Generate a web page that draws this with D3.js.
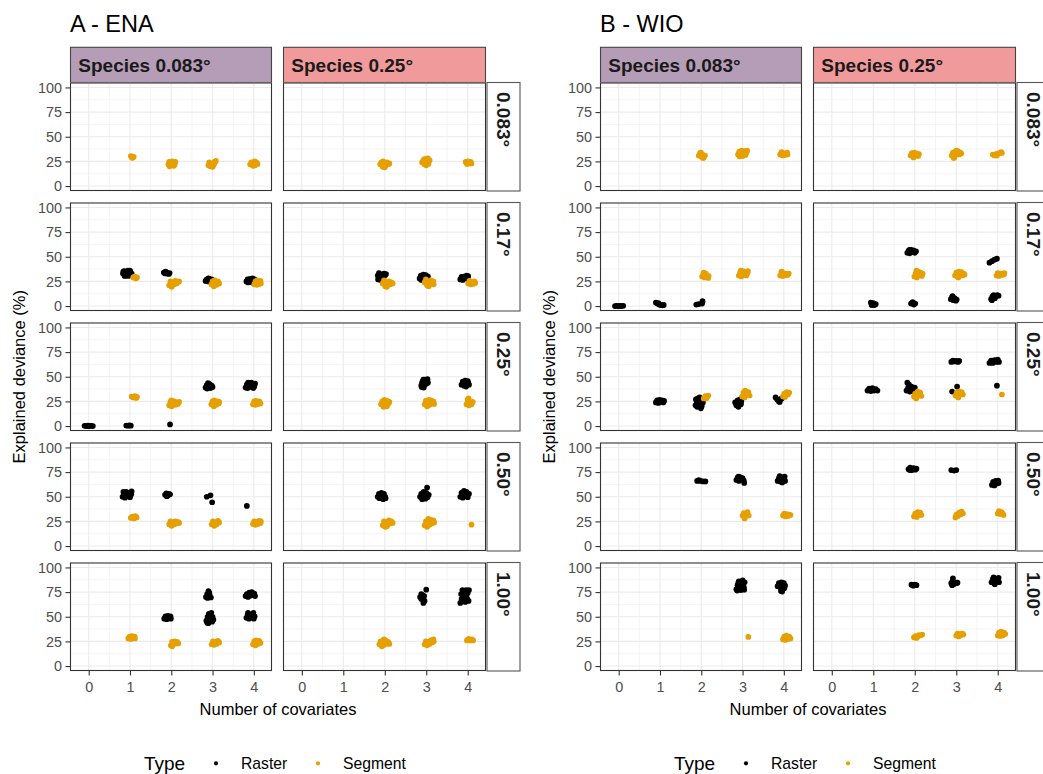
<!DOCTYPE html>
<html><head><meta charset="utf-8">
<script src="https://cdn.jsdelivr.net/npm/d3@7"></script>
<style>body{margin:0;background:#fff}svg{display:block}text{font-family:"Liberation Sans",Arial,Helvetica,sans-serif}</style>
</head><body><svg id="c" width="1043" height="774"></svg>
<script>
// ---------- data ----------
const panelTitles = ["A - ENA", "B - WIO"];
const speciesLabels = ["Species 0.083°", "Species 0.25°"];
const resolutionLabels = ["0.083°", "0.17°", "0.25°", "0.50°", "1.00°"];
const xTicks = [0, 1, 2, 3, 4];
const yTicks = [0, 25, 50, 75, 100];
const typeLabels = ["Raster", "Segment"];
const typeCodes = ["R", "S"];
const xTitle = "Number of covariates";
const yTitle = "Explained deviance (%)";
const legendTitle = "Type";

// clusters: [species index, resolution index, type, [[covariates (jittered), deviance], ...]]
const enaClusters = [
  [0,0,"S",[[1.04,30],[1.07,29],[1.09,29.6],[1.05,28.6],[1.02,30.4]]],
  [0,0,"S",[[1.93,22],[1.96,20],[1.98,24],[2.02,25],[2.05,23],[2.08,21.5],[2.1,24.5],[2.0,22],[1.95,24.5],[2.06,20.5]]],
  [0,0,"S",[[2.9,21],[2.92,24],[2.95,20],[2.98,22.5],[3.02,21],[3.05,24.5],[3.08,25.5],[3.0,19.5],[3.04,23]]],
  [0,0,"S",[[3.91,22],[3.94,24],[3.97,21],[4.0,23.5],[4.03,21],[4.06,24],[4.09,22.5],[3.99,20.5],[4.02,25]]],
  [1,0,"S",[[1.89,22],[1.92,24],[1.95,19.5],[1.98,23],[2.02,21],[2.05,24],[2.08,22],[2.11,23],[2.0,19],[1.96,25]]],
  [1,0,"S",[[2.9,24],[2.93,26],[2.96,22],[2.99,27.5],[3.02,25],[3.05,22.5],[3.08,26],[3.0,21],[2.95,27],[3.04,28]]],
  [1,0,"S",[[3.95,24.5],[3.98,22.5],[4.01,25],[4.04,23],[4.07,24.5],[4.09,23]]],

  [0,1,"R",[[0.83,33],[0.86,35.5],[0.89,31],[0.92,34],[0.95,36],[0.98,32],[1.01,34.5],[1.04,33],[0.87,30.5],[0.96,30.5],[1.0,36],[0.84,35]]],
  [0,1,"S",[[1.08,29],[1.11,30],[1.14,28],[1.17,29]]],
  [0,1,"R",[[1.82,34],[1.85,33],[1.88,34.5],[1.91,33],[1.94,32.5],[1.96,33.5],[1.86,35]]],
  [0,1,"S",[[1.95,21],[1.98,25],[2.01,19.5],[2.04,24],[2.07,22],[2.1,25.5],[2.13,23],[2.16,24.5],[2.19,25],[2.03,21.5]]],
  [0,1,"R",[[2.83,25.5],[2.86,27],[2.89,25],[2.92,27.5],[2.95,26],[2.98,27],[3.01,25.5],[2.9,28]]],
  [0,1,"S",[[2.97,22],[3.0,25],[3.03,20],[3.06,23.5],[3.1,21.5],[3.13,25],[3.16,23],[3.05,26]]],
  [0,1,"R",[[3.82,25],[3.85,27],[3.88,24.5],[3.91,27.5],[3.94,25.5],[3.97,28],[4.0,26],[4.02,27],[3.86,24],[3.96,24]]],
  [0,1,"S",[[4.01,22],[4.04,25],[4.07,21.5],[4.1,24],[4.13,22.5],[4.16,25.5],[4.17,23],[4.08,26]]],
  [1,1,"R",[[1.83,31],[1.86,33.5],[1.89,28],[1.92,32],[1.95,30],[1.98,33],[2.01,31.5],[2.03,32.5],[1.84,27],[1.9,26.5],[1.97,29]]],
  [1,1,"S",[[1.95,23],[1.98,26],[2.01,20],[2.04,24],[2.07,21.5],[2.1,25],[2.13,22],[2.16,24],[2.19,23],[2.05,19.5]]],
  [1,1,"R",[[2.84,28],[2.87,31],[2.9,27],[2.93,32],[2.96,29],[2.99,31.5],[3.02,28.5],[3.04,30],[2.88,26.5],[2.95,26.5],[2.92,29.5]]],
  [1,1,"S",[[2.96,24],[2.99,27],[3.02,21],[3.05,25],[3.08,22],[3.11,26],[3.14,23],[3.17,25],[3.18,22],[3.06,20]]],
  [1,1,"R",[[3.82,27],[3.85,29.5],[3.88,26.5],[3.91,30],[3.94,28],[3.97,31],[4.0,29],[4.01,30.5],[3.86,28]]],
  [1,1,"S",[[4.01,23],[4.04,25.5],[4.07,22],[4.1,24.5],[4.13,22.5],[4.16,25],[4.18,23.5]]],

  [0,2,"R",[[-0.1,0.3],[-0.06,0],[-0.02,0.4],[0.02,0],[0.06,0.3],[0.1,0],[0.0,0.2]]],
  [0,2,"R",[[0.91,0.6],[0.95,0.3],[0.98,0.8],[1.02,0.4]]],
  [0,2,"S",[[1.04,30],[1.08,29],[1.12,30.5],[1.15,28.5],[1.17,29.5]]],
  [0,2,"R",[[1.97,1.7]]],
  [0,2,"S",[[1.95,21],[1.98,24.5],[2.01,20],[2.04,23],[2.07,25],[2.1,21.5],[2.13,24],[2.16,22.5],[2.19,24.5],[2.0,26]]],
  [0,2,"R",[[2.83,39],[2.86,41.5],[2.89,43.5],[2.92,40],[2.95,38.5],[2.98,41],[3.0,39.5],[2.87,38],[2.93,42.5]]],
  [0,2,"S",[[2.97,22],[3.0,25],[3.03,20],[3.06,24],[3.09,21.5],[3.12,25],[3.15,23],[3.16,24.5],[3.04,26]]],
  [0,2,"R",[[3.8,39],[3.83,42],[3.86,44],[3.89,40],[3.92,43],[3.95,39.5],[3.98,42.5],[4.01,40],[4.03,43],[3.85,38.5],[3.94,44],[3.99,38.5]]],
  [0,2,"S",[[3.98,22],[4.01,25],[4.04,21.5],[4.07,24],[4.1,22.5],[4.13,25],[4.16,23],[4.05,25.5]]],
  [1,2,"S",[[1.91,22],[1.94,25],[1.97,19.5],[2.0,24],[2.03,21.5],[2.06,25.5],[2.09,23],[2.11,24.5],[1.99,26.5],[2.05,20]]],
  [1,2,"R",[[2.88,41],[2.91,45],[2.94,39],[2.97,47],[3.0,43],[3.02,46.5],[3.04,44],[2.9,43.5],[2.96,42],[3.03,47.5],[2.93,47],[2.89,39.5]]],
  [1,2,"S",[[2.96,22],[2.99,25.5],[3.02,20],[3.05,24],[3.08,21.5],[3.11,26],[3.14,23],[3.17,25],[3.19,22.5],[3.06,26.5]]],
  [1,2,"R",[[3.85,42],[3.88,45],[3.91,41],[3.94,46],[3.97,43],[4.0,45.5],[4.03,42],[3.9,43.5],[3.96,40],[4.01,44]]],
  [1,2,"S",[[3.97,22],[4.0,25],[4.03,21],[4.06,24],[4.09,22],[4.12,24.5],[4.02,28],[4.0,27]]],

  [0,3,"R",[[0.82,50],[0.85,53],[0.88,49],[0.91,55],[0.94,51],[0.97,54],[1.0,49.5],[1.03,52.5],[1.04,55.5],[0.84,55],[0.9,52],[0.98,51]]],
  [0,3,"S",[[1.02,28.5],[1.06,30],[1.1,28],[1.13,30.5],[1.16,29]]],
  [0,3,"R",[[1.85,52],[1.88,53.5],[1.91,51],[1.94,53],[1.97,52.5],[1.89,50.5]]],
  [0,3,"S",[[1.95,22],[1.98,25],[2.01,20.5],[2.04,24],[2.07,22],[2.1,25],[2.13,23],[2.16,24.5],[2.19,23.5]]],
  [0,3,"R",[[2.86,50],[2.95,51.4],[2.99,44.4]]],
  [0,3,"S",[[2.98,22],[3.01,25],[3.04,20.5],[3.07,24],[3.1,22],[3.13,25.5],[3.16,24]]],
  [0,3,"R",[[3.83,40.7]]],
  [0,3,"S",[[3.98,22.5],[4.01,25],[4.04,21.5],[4.07,24.5],[4.1,22.5],[4.13,25.5],[4.16,23.5],[4.17,25]]],
  [1,3,"R",[[1.83,50],[1.86,53],[1.89,49],[1.92,54],[1.95,51],[1.98,53],[2.01,50],[2.02,48.5],[1.87,48.5],[1.96,47.5]]],
  [1,3,"S",[[1.95,21],[1.98,25],[2.01,19.5],[2.04,24],[2.07,21.5],[2.1,26],[2.13,23],[2.16,25],[2.19,23.5],[2.05,20]]],
  [1,3,"R",[[2.85,50],[2.88,53],[2.91,49],[2.94,55],[2.97,51],[3.0,54],[3.03,49.5],[3.06,52],[2.9,47.5],[2.98,48],[3.02,59.4]]],
  [1,3,"S",[[2.96,21],[2.99,25],[3.02,19.5],[3.05,24],[3.08,21.5],[3.11,26.5],[3.14,23],[3.17,26],[3.19,24],[3.05,27.5]]],
  [1,3,"R",[[3.82,50],[3.85,54],[3.88,49],[3.91,56],[3.94,51],[3.97,55],[4.0,49.5],[4.03,53],[3.86,52],[3.99,52]]],
  [1,3,"S",[[4.09,21.7]]],

  [0,4,"S",[[0.96,28],[0.99,30],[1.02,27.5],[1.05,30.5],[1.08,28.5],[1.11,30],[1.12,28]]],
  [0,4,"R",[[1.83,48],[1.86,50.5],[1.89,47.5],[1.92,51],[1.95,49],[1.98,50.5],[1.99,48]]],
  [0,4,"S",[[1.99,21],[2.02,24.5],[2.05,22],[2.08,25],[2.11,23],[2.14,24.5],[2.17,23],[2.02,20]]],
  [0,4,"R",[[2.84,70],[2.87,73],[2.9,76],[2.93,72],[2.96,69.5],[2.88,69],[2.92,74.5]]],
  [0,4,"R",[[2.85,46],[2.88,50],[2.91,53],[2.94,48],[2.97,54],[3.0,50],[3.02,47],[2.87,44],[2.9,43.5],[2.95,51.5],[2.99,45]]],
  [0,4,"S",[[2.98,22],[3.01,25],[3.04,21.5],[3.07,24.5],[3.1,22.5],[3.13,25.5],[3.16,24]]],
  [0,4,"R",[[3.8,71],[3.83,73],[3.86,70],[3.89,74.5],[3.92,71.5],[3.95,75],[3.98,72],[4.01,73.5],[4.03,71]]],
  [0,4,"R",[[3.82,49],[3.85,52],[3.88,48],[3.91,51],[3.94,49],[3.97,53],[4.0,48],[4.02,50.5],[3.86,54],[3.99,54]]],
  [0,4,"S",[[3.98,22],[4.01,25],[4.04,21],[4.07,24],[4.1,22.5],[4.13,25.5],[4.16,23.5],[4.05,26]]],
  [1,4,"S",[[1.87,22],[1.9,25],[1.93,20],[1.96,24],[1.99,21.5],[2.02,26],[2.05,23],[2.08,24.5],[2.11,22.5],[1.98,27]]],
  [1,4,"R",[[2.85,70],[2.88,68],[2.91,72],[2.95,71],[3.0,77.5],[2.93,64],[2.96,66],[2.88,73]]],
  [1,4,"S",[[2.96,22],[2.99,25],[3.02,21],[3.05,24.5],[3.08,22.5],[3.11,26],[3.14,24],[3.17,27],[3.18,25]]],
  [1,4,"R",[[3.82,64],[3.85,68],[3.88,72],[3.91,76],[3.94,65],[3.97,70],[4.0,74],[4.03,77],[3.84,73],[3.9,66.5],[3.96,77],[4.02,66],[3.87,77],[3.99,68]]],
  [1,4,"S",[[3.98,26],[4.02,27.5],[4.06,26],[4.1,27],[4.13,26]]]
];

const wioClusters = [
  [0,0,"S",[[1.94,31],[1.97,33.5],[2.0,30],[2.03,32],[2.06,29],[2.09,31],[1.99,34],[2.04,28.5]]],
  [0,0,"S",[[2.89,32],[2.92,35],[2.95,31],[2.98,36],[3.01,33],[3.04,35.5],[3.07,31.5],[3.1,34],[3.11,36],[2.93,30],[3.0,30.5]]],
  [0,0,"S",[[3.91,32],[3.94,34],[3.97,31],[4.0,33],[4.03,31.5],[4.06,33.5],[4.09,32],[3.95,34.5],[4.08,34]]],
  [1,0,"S",[[1.9,31],[1.93,33.5],[1.96,30],[1.99,34],[2.02,31.5],[2.05,33],[2.08,30.5],[2.1,32.5],[1.97,29]]],
  [1,0,"S",[[2.89,31],[2.92,34],[2.95,29],[2.98,35],[3.01,32],[3.04,35.5],[3.07,32],[3.1,34],[3.12,33],[2.94,28.5],[3.0,36]]],
  [1,0,"S",[[3.88,32],[3.92,31],[3.96,32.5],[4.0,33],[4.04,33.5],[4.08,34.5],[4.1,33.5],[3.98,31]]],

  [0,1,"R",[[-0.09,0],[-0.05,0.3],[-0.01,0],[0.03,0.2],[0.07,0],[0.11,0.3]]],
  [0,1,"R",[[0.9,3.5],[0.94,2.5],[0.98,1.5],[1.02,1],[1.06,0.8],[1.09,1.2],[0.96,3]]],
  [0,1,"R",[[1.88,1.5],[1.94,2],[2.02,2.5],[2.03,5]]],
  [0,1,"S",[[2.02,30],[2.05,32.5],[2.08,29],[2.11,33],[2.14,31],[2.17,28.5],[2.18,30.5],[2.06,34]]],
  [0,1,"S",[[2.91,31],[2.94,34],[2.97,30],[3.0,35.5],[3.03,32],[3.06,35],[3.09,31],[3.12,33.5],[3.13,35.5],[2.96,36]]],
  [0,1,"S",[[3.91,31],[3.94,34.5],[3.97,30.5],[4.0,33],[4.03,31],[4.06,33],[4.09,31.5],[4.12,33],[3.95,35]]],
  [1,1,"R",[[0.94,3.5],[0.97,1.5],[1.0,3],[1.03,1],[1.06,2],[0.96,1]]],
  [1,1,"R",[[1.82,54],[1.85,56],[1.88,53.5],[1.91,57],[1.94,55],[1.97,56.5],[2.0,54],[2.03,55.5],[1.87,57]]],
  [1,1,"R",[[1.91,2.5],[1.95,4],[1.98,1.5],[2.01,2.5]]],
  [1,1,"S",[[1.99,30],[2.02,33],[2.05,29],[2.08,35],[2.11,31.5],[2.14,34],[2.17,30.5],[2.19,33],[2.04,36]]],
  [1,1,"R",[[2.87,7],[2.9,9],[2.93,6],[2.96,8],[2.99,5.5],[3.01,6.5],[2.91,10]]],
  [1,1,"S",[[2.97,31],[3.0,34],[3.03,30],[3.06,35],[3.09,32],[3.12,34.5],[3.15,31],[3.18,33],[3.2,32],[3.05,29]]],
  [1,1,"R",[[3.8,44],[3.86,45.5],[3.92,47],[3.98,48]]],
  [1,1,"R",[[3.84,7],[3.87,9.5],[3.9,11],[3.93,8],[3.96,10],[3.99,11],[4.02,10.5],[3.86,6]]],
  [1,1,"S",[[3.97,31],[4.0,33.5],[4.03,30.5],[4.06,33],[4.09,31.5],[4.12,33],[4.15,32],[4.16,33.5]]],

  [0,2,"R",[[0.9,24],[0.93,26],[0.96,23.5],[0.99,26.5],[1.02,24.5],[1.05,26],[1.08,24],[1.1,25.5]]],
  [0,2,"R",[[1.86,21],[1.89,25],[1.92,28],[1.95,22],[1.98,26],[2.01,20],[2.04,24],[1.9,19.5],[1.96,29],[2.02,27],[1.93,23.5],[1.99,18],[1.87,27]]],
  [0,2,"S",[[2.06,28],[2.1,30.5],[2.14,29.5],[2.17,31],[2.12,28]]],
  [0,2,"R",[[2.82,24],[2.85,21],[2.88,26],[2.91,22],[2.94,27],[2.97,25],[3.0,29],[2.9,19.5],[2.96,22],[3.02,30]]],
  [0,2,"S",[[2.99,30],[3.02,34],[3.05,29],[3.08,35],[3.11,32],[3.14,34.5],[3.17,31],[3.06,36]]],
  [0,2,"R",[[3.8,29],[3.84,27],[3.88,25],[3.92,27],[3.95,28],[3.9,24.5]]],
  [0,2,"S",[[3.98,30],[4.01,33],[4.04,31],[4.07,34.5],[4.1,32],[4.13,34],[4.03,29.5]]],
  [1,2,"R",[[0.86,36],[0.9,38],[0.94,35.5],[0.98,38.5],[1.02,36],[1.06,37.5],[1.1,36]]],
  [1,2,"R",[[1.8,36],[1.84,39],[1.88,35],[1.92,40],[1.96,37],[2.0,39],[1.86,42],[1.82,44],[1.9,37.5],[1.97,35]]],
  [1,2,"S",[[1.98,30],[2.01,33],[2.04,29],[2.07,35],[2.1,31],[2.13,34],[2.16,30.5],[2.03,28]]],
  [1,2,"R",[[2.88,65],[2.92,66.5],[2.96,65.5],[3.0,66],[3.04,65],[3.07,66]]],
  [1,2,"R",[[2.9,35],[3.02,40]]],
  [1,2,"S",[[2.98,31],[3.01,34],[3.04,30],[3.07,35],[3.1,32],[3.13,34.5],[3.16,32],[3.05,29]]],
  [1,2,"R",[[3.8,64],[3.84,66.5],[3.88,64],[3.92,67],[3.96,65],[4.0,67.5],[4.03,65]]],
  [1,2,"R",[[3.98,41]]],
  [1,2,"S",[[4.1,32]]],

  [0,3,"R",[[1.9,66],[1.94,67],[1.98,66],[2.04,65.5],[2.1,65.5]]],
  [0,3,"R",[[2.85,67],[2.88,69.5],[2.91,66],[2.94,70],[2.97,68],[3.0,69],[3.03,66.5],[3.04,64],[2.9,70.5]]],
  [0,3,"S",[[3.0,31],[3.03,33.5],[3.06,29.5],[3.09,32],[3.12,34.5],[3.15,31],[3.05,28]]],
  [0,3,"R",[[3.85,66],[3.88,69],[3.91,65.5],[3.94,70],[3.97,67],[4.0,69],[4.03,66],[3.9,71],[4.02,70.5],[3.96,64.5]]],
  [0,3,"S",[[3.98,31],[4.01,33],[4.04,30],[4.07,32.5],[4.1,30.5],[4.13,32],[4.16,31.5]]],
  [1,3,"R",[[1.85,78],[1.89,79.5],[1.93,77],[1.97,79],[2.01,77.5],[2.04,78.5],[1.88,77]]],
  [1,3,"S",[[1.98,30],[2.01,33],[2.04,31],[2.07,34.5],[2.1,32],[2.13,34],[2.16,31.5],[2.05,29.5]]],
  [1,3,"R",[[2.88,77],[2.95,76.5],[3.0,77]]],
  [1,3,"S",[[2.98,29],[3.01,32],[3.04,30.5],[3.07,34],[3.1,32],[3.13,35],[3.16,33],[3.0,31]]],
  [1,3,"R",[[3.86,62],[3.89,65],[3.92,61.5],[3.95,66],[3.98,63.5],[4.01,66.5],[4.02,64]]],
  [1,3,"S",[[4.0,33],[4.03,35.5],[4.06,32.5],[4.09,34.5],[4.12,33],[4.14,31.5]]],

  [0,4,"R",[[2.85,78],[2.88,82],[2.91,86],[2.94,79],[2.97,84],[3.0,87],[3.03,80],[3.05,85],[2.87,76.5],[2.96,77],[3.04,77.5],[2.9,84.5],[3.01,82]]],
  [0,4,"S",[[3.14,29.5]]],
  [0,4,"R",[[3.85,81],[3.88,84],[3.91,80],[3.94,85],[3.97,82],[4.0,84],[4.03,81.5],[3.93,76],[3.96,75.5],[4.01,79]]],
  [0,4,"S",[[3.98,27],[4.01,30],[4.04,26.5],[4.07,29.5],[4.1,27.5],[4.13,30],[4.16,28],[4.06,31]]],
  [1,4,"R",[[1.92,82.5],[1.96,81.5],[2.0,82.5],[2.04,82]]],
  [1,4,"S",[[1.98,29],[2.02,30.5],[2.06,29.5],[2.1,31.5],[2.14,31],[2.18,32],[2.04,28.5]]],
  [1,4,"R",[[2.88,84],[2.91,86],[2.94,83],[2.97,85],[3.0,84],[3.03,84.5],[2.92,89],[2.9,82]]],
  [1,4,"S",[[3.0,31],[3.03,33],[3.06,30],[3.09,32.5],[3.12,31.5],[3.15,33],[3.17,32]]],
  [1,4,"R",[[3.85,85],[3.88,88],[3.91,84],[3.94,89],[3.97,86],[4.0,88.5],[4.03,85],[3.9,90],[4.02,89.5],[3.93,83]]],
  [1,4,"S",[[4.0,31],[4.03,34],[4.06,30.5],[4.09,33],[4.12,31],[4.15,34],[4.18,32.5],[4.08,35]]]
];
const panelClusters = [enaClusters, wioClusters];

// ---------- style / layout ----------
const typeColor = d3.scaleOrdinal().domain(typeCodes).range(["#000000", "#E69F00"]);
const stripFill = d3.scaleOrdinal().domain([0, 1]).range(["#B59CB7", "#F19A9B"]);
const panelLeft = [70, 600];
const colSpan = [[0, 202], [213, 416]];
const rowStripX = [416.5, 449.5];
const rowTop0 = 82.5, rowPitch = 120, rowH = 108.5;
const stripTop = 47.3;
const xDomain = [-0.453, 4.44];
const yDomain = [-5, 105];
const minorY = [12.5, 37.5, 62.5, 87.5];
const minorX = [0.5, 1.5, 2.5, 3.5];
const bord = "#333333";

const svg = d3.select("#c");
svg.append("rect").attr("width", 1043).attr("height", 774).attr("fill", "#fff");

panelTitles.forEach((title, p) => {
  const ox = panelLeft[p];
  const root = svg.append("g");

  root.append("text").attr("x", ox).attr("y", 31.5).attr("font-size", "23.5px").attr("fill", "#000").text(title);

  // column strips
  speciesLabels.forEach((lab, c) => {
    const x0 = ox + colSpan[c][0], x1 = ox + colSpan[c][1];
    root.append("rect").attr("x", x0 + 0.5).attr("y", stripTop).attr("width", x1 - x0 - 1).attr("height", rowTop0 - stripTop)
      .attr("fill", stripFill(c)).attr("stroke", "#444").attr("stroke-width", 1.1);
    root.append("text").attr("x", x0 + 8.3).attr("y", 71.5).attr("font-size", "19px").attr("font-weight", "bold")
      .attr("fill", "#1A1A1A").text(lab);
  });

  resolutionLabels.forEach((res, r) => {
    const top = rowTop0 + r * rowPitch;
    // row strip
    root.append("rect").attr("x", ox + rowStripX[0] + 0.5).attr("y", top).attr("width", rowStripX[1] - rowStripX[0]).attr("height", rowH)
      .attr("fill", "#fff").attr("stroke", "#555").attr("stroke-width", 1.1);
    root.append("text").attr("transform", `translate(${ox + 427},${top + 9.5}) rotate(90)`)
      .attr("font-size", "19px").attr("font-weight", "bold").attr("fill", "#1A1A1A").text(res);

    speciesLabels.forEach((_, c) => {
      const x = d3.scaleLinear().domain(xDomain).range([ox + colSpan[c][0], ox + colSpan[c][1]]);
      const y = d3.scaleLinear().domain(yDomain).range([top + rowH, top]);
      const g = root.append("g");
      g.append("rect").attr("x", x.range()[0]).attr("y", top).attr("width", x.range()[1] - x.range()[0]).attr("height", rowH).attr("fill", "#fff");
      // grid
      g.selectAll(".mny").data(minorY).join("line").attr("x1", x.range()[0]).attr("x2", x.range()[1])
        .attr("y1", d => y(d)).attr("y2", d => y(d)).attr("stroke", "#EBEBEB").attr("stroke-width", 0.55);
      g.selectAll(".mnx").data(minorX).join("line").attr("y1", top).attr("y2", top + rowH)
        .attr("x1", d => x(d)).attr("x2", d => x(d)).attr("stroke", "#EBEBEB").attr("stroke-width", 0.55);
      g.selectAll(".mjy").data(yTicks).join("line").attr("x1", x.range()[0]).attr("x2", x.range()[1])
        .attr("y1", d => y(d)).attr("y2", d => y(d)).attr("stroke", "#EBEBEB").attr("stroke-width", 1.1);
      g.selectAll(".mjx").data(xTicks).join("line").attr("y1", top).attr("y2", top + rowH)
        .attr("x1", d => x(d)).attr("x2", d => x(d)).attr("stroke", "#EBEBEB").attr("stroke-width", 1.1);
      // points
      const pts = [];
      typeCodes.forEach(t => {
        panelClusters[p].filter(cl => cl[0] === c && cl[1] === r && cl[2] === t)
          .forEach(cl => cl[3].forEach(pt => pts.push({t, x: pt[0], y: pt[1]})));
      });
      g.selectAll("circle").data(pts).join("circle")
        .attr("cx", d => x(d.x)).attr("cy", d => y(d.y)).attr("r", 2.85).attr("fill", d => typeColor(d.t));
      // border
      g.append("rect").attr("x", x.range()[0] + 0.5).attr("y", top + 0.5).attr("width", x.range()[1] - x.range()[0] - 1).attr("height", rowH - 1)
        .attr("fill", "none").attr("stroke", bord).attr("stroke-width", 1.1);

      if (c === 0) {
        const ax = g.append("g").attr("transform", `translate(${x.range()[0]},0)`)
          .call(d3.axisLeft(y).tickValues(yTicks).tickSize(4.5).tickPadding(3.5).tickFormat(d3.format("d")));
        ax.select(".domain").remove();
        ax.selectAll("line").attr("stroke", bord).attr("stroke-width", 1.1);
        ax.selectAll("text").attr("fill", "#4D4D4D").attr("font-size", "14.4px").attr("font-family", null);
      }
      if (r === resolutionLabels.length - 1) {
        const ax = g.append("g").attr("transform", `translate(0,${top + rowH})`)
          .call(d3.axisBottom(x).tickValues(xTicks).tickSize(4.5).tickPadding(6).tickFormat(d3.format("d")));
        ax.select(".domain").remove();
        ax.selectAll("line").attr("stroke", bord).attr("stroke-width", 1.1);
        ax.selectAll("text").attr("fill", "#4D4D4D").attr("font-size", "14.4px").attr("font-family", null);
      }
    });
  });

  // axis titles
  const midX = ox + colSpan[1][1] / 2;
  root.append("text").attr("x", midX).attr("y", 714.5).attr("text-anchor", "middle").attr("font-size", "16.5px").attr("fill", "#000").text(xTitle);
  const midY = rowTop0 + (4 * rowPitch + rowH) / 2;
  root.append("text").attr("transform", `translate(${ox - 45},${midY}) rotate(-90)`).attr("text-anchor", "middle")
    .attr("font-size", "16.5px").attr("fill", "#000").text(yTitle);

  // legend
  const lg = root.append("g").attr("transform", `translate(${ox},0)`);
  lg.append("text").attr("x", 74).attr("y", 770).attr("font-size", "19px").attr("fill", "#000").text(legendTitle);
  const keyX = [146, 248];
  typeLabels.forEach((lab, i) => {
    lg.append("circle").attr("cx", keyX[i]).attr("cy", 763.3).attr("r", 2.1).attr("fill", typeColor(typeCodes[i]));
    lg.append("text").attr("x", keyX[i] + 25).attr("y", 768.5).attr("font-size", "15.7px").attr("fill", "#000").text(lab);
  });
});
</script></body></html>
